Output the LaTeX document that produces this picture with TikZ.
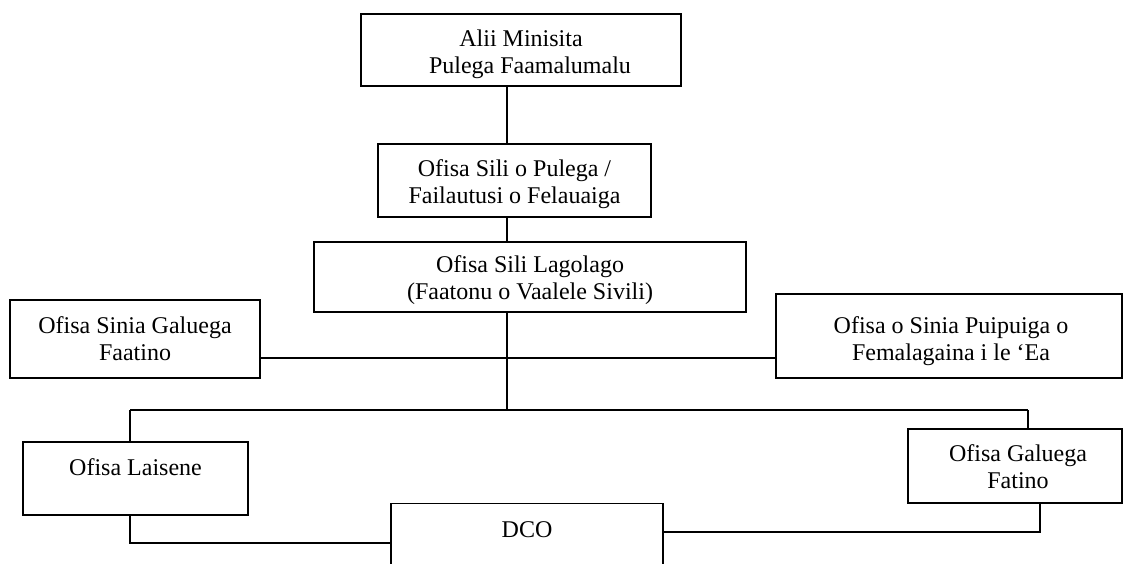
\documentclass[tikz,border=0pt]{standalone}
\usepackage{fontspec}
\setmainfont{Liberation Serif}
\begin{document}
\begin{tikzpicture}[x=1pt,y=-1pt,
  box/.style={draw=black, line width=1.4pt, rectangle, inner sep=0pt, fill=white},
  txt/.style={align=center, inner sep=0pt, font=\fontsize{24}{27}\selectfont},
  conn/.style={draw=black, line width=1.3pt}]
\useasboundingbox (0,0) rectangle (1123,564);
\clip (0,0) rectangle (1123,564);
\fill[white] (0,0) rectangle (1123,564);
% boxes
\node[box, minimum width=320, minimum height=72] (A) at (521,50) {};
\node[box, minimum width=273, minimum height=73] (B) at (514.5,180.5) {};
\node[box, minimum width=432, minimum height=70] (C) at (530,277) {};
\node[box, minimum width=250, minimum height=78] (D) at (135,339) {};
\node[box, minimum width=346, minimum height=84] (E) at (949,336) {};
\node[box, minimum width=225, minimum height=73] (F) at (135.5,478.5) {};
\node[box, minimum width=214, minimum height=74] (G) at (1015,466) {};
\node[box, minimum width=272, minimum height=100, anchor=north] (H) at (527,503) {};
% texts
\node[txt] (At) at (521,55) {\strut Alii Minisita\\\hspace*{18pt}\strut Pulega Faamalumalu};
\node[txt] (Bt) at (514.5,185) {\strut Ofisa Sili o Pulega /\\\strut Failautusi o Felauaiga};
\node[txt] (Ct) at (530,281) {\strut Ofisa Sili Lagolago\\\strut (Faatonu o Vaalele Sivili)};
\node[txt] (Dt) at (135,342) {\strut Ofisa Sinia Galuega\\\strut Faatino};
\node[txt] (Et) at (951,342) {\strut Ofisa o Sinia Puipuiga o\\\strut Femalagaina i le ‘Ea};
\node[txt] (Ft) at (135.5,470) {\strut Ofisa Laisene};
\node[txt] (Gt) at (1018,470) {\strut Ofisa Galuega\\\strut Fatino};
\node[txt] (Ht) at (527,532) {\strut DCO};
% junction coordinates
\coordinate (j1) at (507,358);
\coordinate (j2) at (507,410);
\coordinate (jl) at (130,410);
\coordinate (jr) at (1028,410);
% connectors
\draw[conn] (A.south -| j1) -- (B.north -| j1);
\draw[conn] (B.south -| j1) -- (C.north -| j1);
\draw[conn] (C.south -| j1) -- (j2);
\draw[conn] (D.east |- j1) -- (E.west |- j1);
\draw[conn] (jl) -- (jr);
\draw[conn] (jl) -- (F.north -| jl);
\draw[conn] (jr) -- (G.north -| jr);
\draw[conn] (F.south -| jl) -- (130,543) -- (H.west |- 0,543);
\draw[conn] (G.south -| 1040,0) -- (1040,532) -- (H.east |- 0,532);
\end{tikzpicture}
\end{document}
